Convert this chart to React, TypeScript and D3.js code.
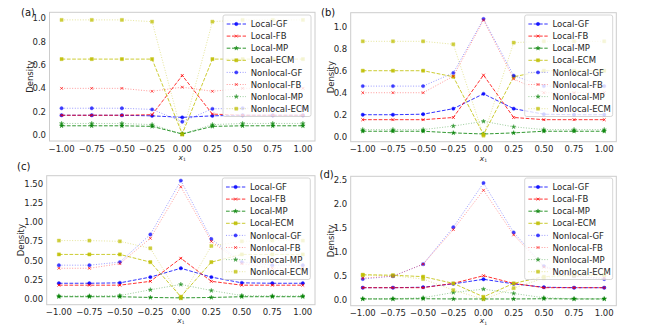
import * as d3 from "d3";

const xValues = [-1, -0.75, -0.5, -0.25, 0, 0.25, 0.5, 0.75, 1];
const xTickLabels = ["−1.00", "−0.75", "−0.50", "−0.25", "0.00", "0.25", "0.50", "0.75", "1.00"];

const seriesNames = [
  "Local-GF", "Local-FB", "Local-MP", "Local-ECM",
  "Nonlocal-GF", "Nonlocal-FB", "Nonlocal-MP", "Nonlocal-ECM",
];

// one row per series, same order as seriesNames
const densityA = [
  [0.17, 0.17, 0.17, 0.165, 0.152, 0.165, 0.17, 0.17, 0.17],
  [0.17, 0.17, 0.17, 0.175, 0.51, 0.18, 0.17, 0.17, 0.17],
  [0.08, 0.08, 0.08, 0.075, 0.01, 0.075, 0.08, 0.08, 0.08],
  [0.65, 0.65, 0.65, 0.65, 0.01, 0.65, 0.65, 0.65, 0.65],
  [0.23, 0.23, 0.23, 0.22, 0.115, 0.225, 0.23, 0.23, 0.23],
  [0.40, 0.40, 0.40, 0.375, 0.41, 0.375, 0.40, 0.40, 0.40],
  [0.10, 0.10, 0.10, 0.09, 0.01, 0.09, 0.10, 0.10, 0.10],
  [0.985, 0.985, 0.985, 0.97, 0.005, 0.97, 0.985, 0.985, 0.985],
];

const densityB = [
  [0.20, 0.20, 0.205, 0.255, 0.39, 0.255, 0.205, 0.20, 0.20],
  [0.155, 0.155, 0.155, 0.175, 0.56, 0.175, 0.155, 0.155, 0.155],
  [0.05, 0.05, 0.05, 0.035, 0.025, 0.035, 0.05, 0.05, 0.05],
  [0.60, 0.60, 0.60, 0.545, 0.02, 0.545, 0.60, 0.60, 0.60],
  [0.46, 0.46, 0.46, 0.58, 1.07, 0.555, 0.46, 0.46, 0.46],
  [0.40, 0.40, 0.40, 0.55, 1.06, 0.525, 0.40, 0.40, 0.40],
  [0.065, 0.065, 0.065, 0.097, 0.14, 0.09, 0.065, 0.065, 0.065],
  [0.867, 0.867, 0.867, 0.84, 0.01, 0.855, 0.867, 0.867, 0.867],
];

const densityC = [
  [0.205, 0.205, 0.21, 0.285, 0.40, 0.285, 0.21, 0.205, 0.205],
  [0.18, 0.18, 0.18, 0.23, 0.53, 0.23, 0.18, 0.18, 0.18],
  [0.03, 0.03, 0.03, 0.02, 0.015, 0.02, 0.03, 0.03, 0.03],
  [0.58, 0.58, 0.58, 0.48, 0.03, 0.48, 0.58, 0.58, 0.58],
  [0.44, 0.44, 0.48, 0.84, 1.54, 0.78, 0.48, 0.44, 0.44],
  [0.40, 0.40, 0.46, 0.79, 1.46, 0.75, 0.46, 0.40, 0.40],
  [0.04, 0.04, 0.045, 0.12, 0.19, 0.11, 0.045, 0.04, 0.04],
  [0.76, 0.76, 0.75, 0.66, 0.01, 0.69, 0.75, 0.76, 0.76],
];

const densityD = [
  [0.25, 0.25, 0.26, 0.33, 0.425, 0.33, 0.26, 0.25, 0.25],
  [0.25, 0.25, 0.25, 0.34, 0.50, 0.34, 0.25, 0.25, 0.25],
  [0.015, 0.015, 0.02, 0.015, 0.015, 0.015, 0.02, 0.015, 0.015],
  [0.52, 0.51, 0.48, 0.34, 0.06, 0.34, 0.48, 0.51, 0.52],
  [0.43, 0.49, 0.74, 1.51, 2.43, 1.40, 0.70, 0.49, 0.43],
  [0.45, 0.49, 0.74, 1.46, 2.28, 1.35, 0.68, 0.49, 0.45],
  [0.02, 0.02, 0.04, 0.15, 0.22, 0.13, 0.04, 0.02, 0.02],
  [0.51, 0.50, 0.43, 0.20, 0.01, 0.24, 0.45, 0.50, 0.51],
];

const yTicksA = [0, 0.2, 0.4, 0.6, 0.8, 1.0];
const yTicksB = [0, 0.2, 0.4, 0.6, 0.8, 1.0];
const yTicksC = [0, 0.25, 0.5, 0.75, 1.0, 1.25, 1.5];
const yTicksD = [0, 0.5, 1.0, 1.5, 2.0, 2.5];

const colors = ["#0000ff", "#ff0000", "#008000", "#bfbf00"];
const symbols = [d3.symbolCircle, d3.symbolX, d3.symbolStar, d3.symbolSquare];
const symbolSizes = [9, 6, 6, 10];

const font = "DejaVu Sans, sans-serif";

const panels = [
  { tag: "(a)", data: densityA, ticks: yTicksA, fmt: ".1f", yDomain: [-0.05, 1.05], left: 49.5, right: 315, top: 12.3, bottom: 141, tagX: 21, tagY: 15.5, legX: 223, legY: 15, tickY: 10.8, xLab: 19 },
  { tag: "(b)", data: densityB, ticks: yTicksB, fmt: ".1f", yDomain: [-0.045, 1.127], left: 350.7, right: 616.3, top: 12.7, bottom: 141.7, tagX: 321, tagY: 15.5, legX: 524.7, legY: 15, tickY: 10.5, xLab: 19 },
  { tag: "(c)", data: densityC, ticks: yTicksC, fmt: ".2f", yDomain: [-0.074, 1.604], left: 46.7, right: 315, top: 175.7, bottom: 304.7, tagX: 17, tagY: 170.3, legX: 222.3, legY: 178, tickY: 10.2, xLab: 18.2 },
  { tag: "(d)", data: densityD, ticks: yTicksD, fmt: ".1f", yDomain: [-0.125, 2.57], left: 350.7, right: 616.3, top: 176.3, bottom: 305.7, tagX: 319.5, tagY: 177.5, legX: 524.7, legY: 178, tickY: 9.8, xLab: 17.6 },
];

function seriesStyle(i: number) {
  const local = i < 4;
  return {
    color: colors[i % 4],
    dash: local ? "3.7,1.6" : "1,1.65",
    lineOpacity: local ? 0.8 : 0.4,
    markOpacity: local ? 0.9 : 0.75,
    symbol: symbols[i % 4],
    size: symbolSizes[i % 4],
  };
}

function Marker({ i, x, y }: { i: number; x: number; y: number }) {
  const s = seriesStyle(i);
  const path = d3.symbol().type(s.symbol).size(s.size)();
  const stroked = s.symbol === d3.symbolX;
  return (
    <path
      d={path || ""}
      transform={`translate(${x},${y})`}
      fill={stroked ? "none" : s.color}
      stroke={s.color}
      strokeWidth={stroked ? 0.9 : 0.4}
      opacity={s.markOpacity}
    />
  );
}

function Panel({ p }: { p: (typeof panels)[number] }) {
  const x = d3.scaleLinear().domain([-1.1, 1.1]).range([p.left, p.right]);
  const y = d3.scaleLinear().domain(p.yDomain).range([p.bottom, p.top]);
  const line = d3
    .line<number>()
    .x((_, k) => x(xValues[k]))
    .y((d) => y(d));
  const fmt = d3.format(p.fmt);
  const cx = (p.left + p.right) / 2;
  const cy = (p.top + p.bottom) / 2;
  const rowH = 12.1;

  return (
    <g fontFamily={font}>
      <rect x={p.left} y={p.top} width={p.right - p.left} height={p.bottom - p.top} fill="#fff" stroke="#cccccc" strokeWidth={1} />
      {p.data.map((vals, i) => {
        const s = seriesStyle(i);
        return (
          <g key={seriesNames[i]}>
            <path d={line(vals) || ""} fill="none" stroke={s.color} strokeWidth={1} strokeDasharray={s.dash} opacity={s.lineOpacity} />
            {vals.map((v, k) => (
              <Marker key={k} i={i} x={x(xValues[k])} y={y(v)} />
            ))}
          </g>
        );
      })}
      {xValues.map((v, k) => (
        <text key={v} x={x(v)} y={p.bottom + p.tickY} textAnchor="middle" fontSize={8.5} fill="#262626">
          {xTickLabels[k]}
        </text>
      ))}
      {p.ticks.map((t) => (
        <text key={t} x={p.left - 3.5} y={y(t) + 3.1} textAnchor="end" fontSize={8.5} fill="#262626">
          {fmt(t)}
        </text>
      ))}
      <text transform={`translate(${p.left - (p.fmt === ".2f" ? 26 : 19.5)},${cy}) rotate(-90)`} textAnchor="middle" dy="0.35em" fontSize={8.5} fill="#262626">
        Density
      </text>
      <text x={cx} y={p.bottom + p.xLab} textAnchor="middle" fontSize={7.5} fill="#262626">
        <tspan fontStyle="italic">x</tspan>
        <tspan fontSize={4.5} dy={1.2}>1</tspan>
      </text>
      <text x={p.tagX} y={p.tagY} fontSize={10} fill="#111">
        {p.tag}
      </text>
      <g>
        <rect x={p.legX} y={p.legY} width={88} height={101.5} rx={2} fill="#fff" fillOpacity={0.8} stroke="#cccccc" strokeWidth={0.8} />
        {seriesNames.map((name, i) => {
          const s = seriesStyle(i);
          const ry = p.legY + 9 + i * rowH;
          return (
            <g key={name}>
              <line x1={p.legX + 3.7} x2={p.legX + 23} y1={ry} y2={ry} stroke={s.color} strokeWidth={1} strokeDasharray={s.dash} opacity={s.lineOpacity} />
              <Marker i={i} x={p.legX + 13.3} y={ry} />
              <text x={p.legX + 27.7} y={ry + 3.1} fontSize={8.5} fill="#262626">
                {name}
              </text>
            </g>
          );
        })}
      </g>
    </g>
  );
}

export default function App() {
  return (
    <svg width={658} height={326} style={{ position: "absolute", left: 0, top: 0, background: "#fff" }}>
      {panels.map((p) => (
        <Panel key={p.tag} p={p} />
      ))}
    </svg>
  );
}
